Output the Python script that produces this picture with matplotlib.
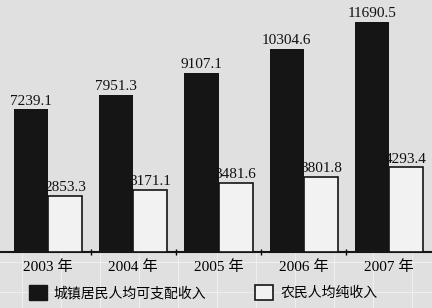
import numpy as np
import matplotlib.pyplot as plt
from matplotlib.patches import Patch

years = ['2003 年', '2004 年', '2005 年', '2006 年', '2007 年']
urban = [7239.1, 7951.3, 9107.1, 10304.6, 11690.5]
rural = [2853.3, 3171.1, 3481.6, 3801.8, 4293.4]
legend_labels = ['城镇居民人均可支配收入', '农民人均纯收入']

num_font = ['Liberation Serif', 'Noto Sans CJK SC']
cjk_font = ['Noto Sans CJK SC', 'DejaVu Sans']
bg = '#e0e0e0'

fig = plt.figure(figsize=(4.32, 3.08), dpi=100, facecolor=bg)
ax = fig.add_axes([0, (308 - 252) / 308, 1, 252 / 308])
ax.set_facecolor(bg)

# faint grid of the scanned paper
for gx in np.arange(22, 432, 39):
    fig.add_artist(plt.Line2D([gx / 432] * 2, [0, 1], color='#efefef', lw=0.8, zorder=0))
for gy in np.arange(22, 308, 30):
    fig.add_artist(plt.Line2D([0, 1], [1 - gy / 308] * 2, color='#efefef', lw=0.8, zorder=0))

x = np.arange(len(years))
w = 0.4
ax.bar(x - w / 2, urban, w, color='#151515', zorder=3)
ax.bar(x + w / 2, rural, w, color='#f2f2f2', edgecolor='#151515', lw=1.2, zorder=3)

for xi, v in zip(x, urban):
    ax.text(xi - w / 2, v + 100, f'{v:.1f}', ha='center', va='bottom',
            family=num_font, fontsize=11, color='#111111')
for xi, v in zip(x, rural):
    ax.text(xi + w / 2, v + 100, f'{v:.1f}', ha='center', va='bottom',
            family=num_font, fontsize=11, color='#111111')

ax.set_xlim(-0.563, 4.504)
ax.set_ylim(0, 12800)
for s in ['top', 'right', 'left']:
    ax.spines[s].set_visible(False)
ax.spines['bottom'].set_linewidth(1.5)
ax.spines['bottom'].set_color('#151515')
ax.set_yticks([])
ax.set_xticks(x)
ax.set_xticklabels(years, family=num_font, fontsize=11)
ax.tick_params(axis='x', length=0, pad=6)
ax.set_xticks(x[:-1] + 0.5, minor=True)
ax.tick_params(axis='x', which='minor', length=5, direction='inout', width=1)

handles = [Patch(facecolor='#151515', edgecolor='#151515'),
           Patch(facecolor='#f2f2f2', edgecolor='#151515', lw=1.2)]
fig.legend(handles, legend_labels, loc='lower center', ncol=2, frameon=False,
           bbox_to_anchor=(0.47, -0.015), prop={'family': cjk_font, 'size': 10},
           handlelength=1.3, handleheight=1.3, columnspacing=3.5, handletextpad=0.5)

fig.savefig('out.png', dpi=100, facecolor=bg)
